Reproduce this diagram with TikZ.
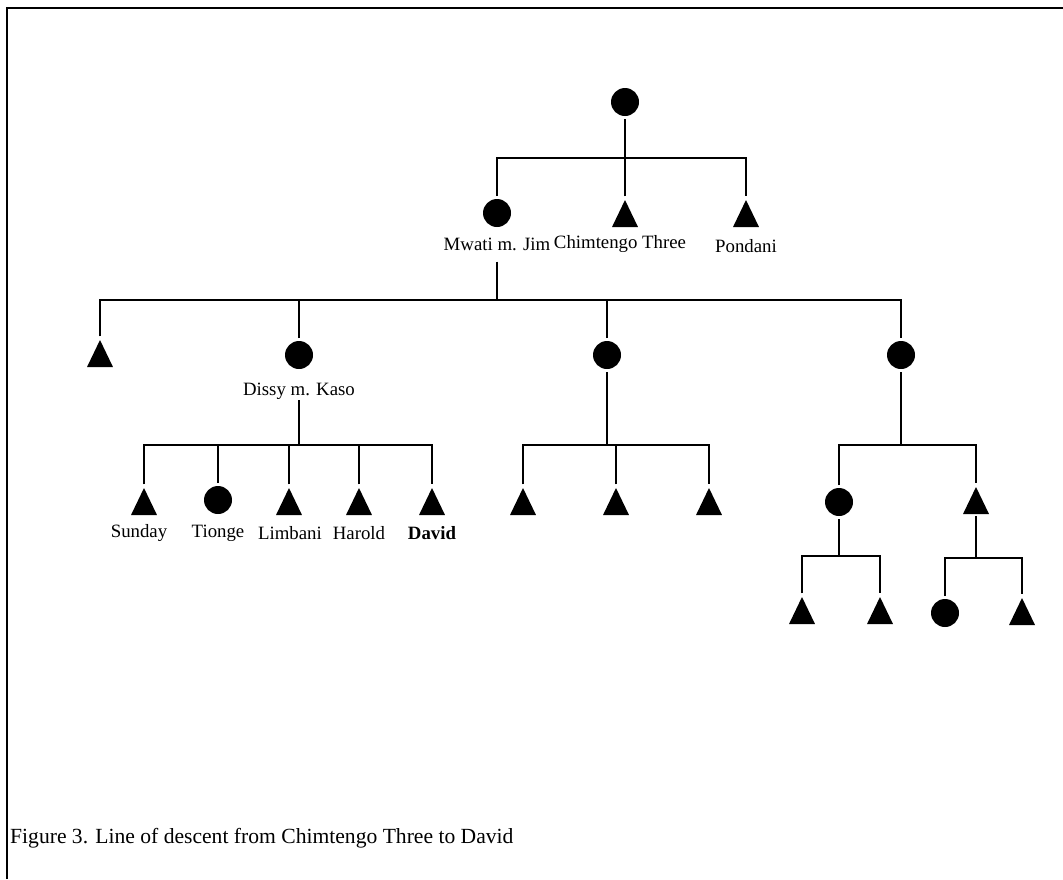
\documentclass[tikz,border=0pt]{standalone}
\usepackage{fontspec}
\setmainfont{Liberation Serif}
\usetikzlibrary{shapes.geometric}

\begin{document}
\begin{tikzpicture}[x=1pt,y=-1pt,
	fem/.style={circle,fill,minimum size=28pt,inner sep=0pt,outer sep=3pt},
	male/.style={regular polygon,regular polygon sides=3,fill,minimum size=30pt,
		inner sep=0pt,outer sep=1.5pt,yscale=1.2},
	kinname/.style={font=\fontsize{18.8}{22}\selectfont,inner sep=1pt},
	kin/.style={line width=2.8pt}]
		\useasboundingbox (0,0) rectangle (1063,879);
		\draw[kin] (7,879) -- (7,8) -- (1063,8);
		% first generation
		\node[fem] (top) at (625,102) {};
		\coordinate (b1) at (625,158);
		\node[fem] (mwati) at (497,213) {};
		\node[male] (chim) at (625,218) {};
		\node[male] (pond) at (746,218) {};
		\node[kinname] (mwatiL) at (497,244) {Mwati m. Jim};
		\node[kinname] (chimL) at (620,244) {Chimtengo Three};
		\node[kinname] (pondL) at (746,246) {Pondani};
		\draw[kin] (top) -- (b1);
		\draw[kin] (mwati) |- (b1) -| (pond);
		\draw[kin] (chim) -- (b1);
		% children of Mwati
		\coordinate (b2) at (497,300);
		\node[male] (s1) at (100,358) {};
		\node[fem] (s2) at (299,355) {};
		\node[fem] (s3) at (607,355) {};
		\node[fem] (s4) at (901,355) {};
		\node[kinname] (dissyL) at (299,391) {Dissy m. Kaso};
		\draw[kin,shorten <=10pt] (mwatiL) -- (b2);
		\draw[kin] (s1) |- (b2) -| (s4);
		\draw[kin] (s2) -- (s2 |- b2);
		\draw[kin] (s3) -- (s3 |- b2);
		% children of Dissy
		\coordinate (b3) at (299,445);
		\node[male] (d1) at (144,506) {};
		\node[fem] (d2) at (218,500) {};
		\node[male] (d3) at (289,506) {};
		\node[male] (d4) at (359,506) {};
		\node[male] (d5) at (432,506) {};
		\node[kinname] (d1L) at (139,533) {Sunday};
		\node[kinname] (d2L) at (218,533) {Tionge};
		\node[kinname] (d3L) at (290,533) {Limbani};
		\node[kinname] (d4L) at (359,533) {Harold};
		\node[kinname] (d5L) at (432,533) {\bfseries David};
		\draw[kin] (dissyL) -- (b3);
		\draw[kin] (d1) |- (b3) -| (d5);
		\foreach \k in {d2,d3,d4} \draw[kin] (\k) -- (\k |- b3);
		% children of the middle sister
		\coordinate (b4) at (607,445);
		\node[male] (m1) at (523,506) {};
		\node[male] (m2) at (616,506) {};
		\node[male] (m3) at (709,506) {};
		\draw[kin] (s3) -- (b4);
		\draw[kin] (m1) |- (b4) -| (m3);
		\draw[kin] (m2) -- (m2 |- b4);
		% children of the last sister
		\coordinate (b5) at (901,445);
		\node[fem] (r1) at (839,502) {};
		\node[male] (r2) at (976,505) {};
		\draw[kin] (s4) -- (b5);
		\draw[kin] (r1) |- (b5) -| (r2);
		\coordinate (b6) at (839,556);
		\node[male] (r11) at (802,615) {};
		\node[male] (r12) at (880,615) {};
		\draw[kin] (r1) -- (b6);
		\draw[kin] (r11) |- (b6) -| (r12);
		\coordinate (b7) at (976,558);
		\node[fem] (r21) at (945,613) {};
		\node[male] (r22) at (1022,616) {};
		\draw[kin] (r2) -- (b7);
		\draw[kin] (r21) |- (b7) -| (r22);
		% caption
		\node[anchor=west,inner sep=0pt,font=\fontsize{21.6}{25}\selectfont] (cap) at (10,838)
		{Figure 3. Line of descent from Chimtengo Three to David};
\end{tikzpicture}
\end{document}
